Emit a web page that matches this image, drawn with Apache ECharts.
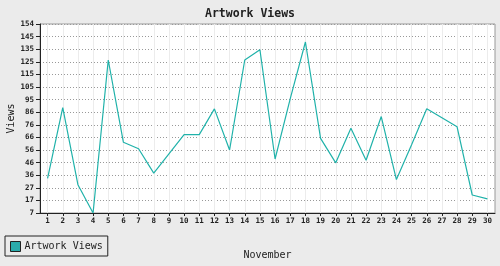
<!DOCTYPE html>
<html><head><meta charset="utf-8">
<script src="https://cdn.jsdelivr.net/npm/echarts@6/dist/echarts.min.js"></script>
<style>html,body{margin:0;padding:0;background:#ebebeb}#c{width:500px;height:266px}</style>
</head><body><div id="c"></div>
<script>
const days = [1,2,3,4,5,6,7,8,9,10,11,12,13,14,15,16,17,18,19,20,21,22,23,24,25,26,27,28,29,30];
const views = [34,89,29,7,126,62,57,38,53,68,68,88,56,126,134,49,96,140,65,46,73,48,82,33,60,88,81,74,21,18];
const yTickLabels = ['7','17','27','36','46','56','66','76','86','95','105','115','125','135','145','154'];
const yMin = 7, yMax = 154;
const yStep = (yMax - yMin) / (yTickLabels.length - 1);
const yTicks = yTickLabels.map((_, i) => yMin + i * yStep);
const font = 'DejaVu Sans Mono';

const chart = echarts.init(document.getElementById('c'), null, {renderer: 'canvas'});
chart.setOption({
  backgroundColor: '#ebebeb',
  animation: false,
  title: {
    text: 'Artwork Views', left: 'center', top: 3,
    textStyle: {fontFamily: font, fontSize: 11.5, fontWeight: 'bold', color: '#222'}
  },
  legend: {
    left: 5, top: 236, padding: [5, 5, 4, 5],
    borderColor: '#222', borderWidth: 1,
    itemWidth: 10, itemHeight: 10, itemGap: 5, icon: 'rect',
    textStyle: {fontFamily: font, fontSize: 10, color: '#222', padding: [0, 0, 0, -1]},
    data: [{name: 'Artwork Views', itemStyle: {color: '#2aabab', borderColor: '#222', borderWidth: 1}}]
  },
  grid: {
    left: 40, top: 24, right: 5, bottom: 53, outerBoundsMode: 'none', containLabel: false,
    show: true, backgroundColor: '#ffffff', borderColor: '#999', borderWidth: 1
  },
  xAxis: {
    type: 'value', min: 0.5, max: 30.5,
    name: 'November', nameLocation: 'middle', nameGap: 37, nameMoveOverlap: false,
    nameTextStyle: {fontFamily: font, fontSize: 10, color: '#222'},
    axisLine: {show: true, lineStyle: {color: '#222', width: 1}},
    axisTick: {show: true, length: 3, customValues: days, lineStyle: {color: '#222', width: 1}},
    axisLabel: {customValues: days, fontFamily: font, fontSize: 7.5, fontWeight: 'bold', color: '#222', margin: 4},
    splitLine: {show: true, lineStyle: {color: '#ececec', width: 1}}
  },
  yAxis: {
    type: 'value', min: yMin, max: yMax,
    name: 'Views', nameLocation: 'middle', nameGap: 24, nameMoveOverlap: false,
    nameTextStyle: {fontFamily: font, fontSize: 10, color: '#222'},
    axisLine: {show: true, lineStyle: {color: '#222', width: 1}},
    axisTick: {show: true, length: 4, customValues: yTicks, lineStyle: {color: '#222', width: 1}},
    axisLabel: {
      customValues: yTicks, fontFamily: font, fontSize: 7.5, fontWeight: 'bold', color: '#222', margin: 6,
      formatter: (v) => { const i = yTicks.findIndex(t => Math.abs(t - v) < 1e-6); return i >= 0 ? yTickLabels[i] : ''; }
    },
    splitLine: {show: true, lineStyle: {color: '#999', width: 1, type: [1, 2]}}
  },
  series: [{
    name: 'Artwork Views', type: 'line', showSymbol: false, symbol: 'none',
    data: days.map((d, i) => [d, views[i]]),
    lineStyle: {color: '#20b2aa', width: 1.2},
    itemStyle: {color: '#20b2aa'}
  }]
});
</script></body></html>
